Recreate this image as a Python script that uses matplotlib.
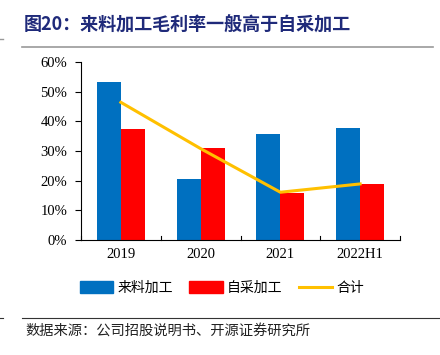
import matplotlib
matplotlib.use("Agg")
import matplotlib.pyplot as plt
import numpy as np
from matplotlib.lines import Line2D
from matplotlib.patches import Patch

categories = ["2019", "2020", "2021", "2022H1"]
series_names = ["来料加工", "自采加工", "合计"]
processing = [53.3, 20.5, 35.7, 37.8]
self_purchase = [37.3, 30.9, 15.7, 19.0]
total = [46.4, 30.8, 16.1, 18.9]
yticks = [0, 10, 20, 30, 40, 50, 60]
ytick_labels = ["0%", "10%", "20%", "30%", "40%", "50%", "60%"]

W, H = 440, 355
fig = plt.figure(figsize=(W / 100, H / 100), dpi=100)
cjk = ["Noto Sans CJK SC", "DejaVu Sans"]
serif = ["Liberation Serif", "DejaVu Serif"]

ax = fig.add_axes([81 / W, 1 - 240 / H, (400 - 81) / W, (240 - 62) / H])
x = np.arange(len(categories))
bw = 0.3
ax.bar(x - bw / 2, processing, bw, color="#0070C0", label=series_names[0], zorder=2)
ax.bar(x + bw / 2, self_purchase, bw, color="#FF0000", label=series_names[1], zorder=2)
ax.plot(x, total, color="#FFC000", lw=2.2, zorder=3, label=series_names[2])

ax.set_xlim(-0.5, len(categories) - 0.5)
ax.set_ylim(0, 60)
ax.set_yticks(yticks)
ax.set_yticklabels(ytick_labels, fontfamily=serif, fontsize=10.5)
ax.set_xticks(x)
ax.set_xticklabels(categories, fontfamily=serif, fontsize=10.5)
ax.tick_params(axis="x", length=0, pad=6)
ax.tick_params(axis="y", direction="out", length=4, width=0.8, pad=6)
for b in np.arange(-0.5, len(categories), 1.0):
    ax.plot([b, b], [0, 1.5], color="black", lw=0.8, clip_on=False, zorder=4)
for s in ["top", "right"]:
    ax.spines[s].set_visible(False)
for s in ["left", "bottom"]:
    ax.spines[s].set_linewidth(0.8)

handles = [Patch(color="#0070C0"), Patch(color="#FF0000"),
           Line2D([0], [0], color="#FFC000", lw=2.2)]
leg = fig.legend(handles, series_names, loc="center", bbox_to_anchor=(222 / W, 1 - 288 / H),
                 ncol=3, frameon=False, prop={"family": cjk, "size": 10},
                 handlelength=2.4, handleheight=0.9, handletextpad=0.3, columnspacing=1.2)

fig.text(24 / W, 1 - 25 / H, "图20：来料加工毛利率一般高于自采加工", fontfamily=cjk,
         fontsize=13, fontweight="bold", color="#1F2A7A", va="center", ha="left")
fig.add_artist(Line2D([22 / W, 433 / W], [1 - 47 / H, 1 - 47 / H], color="#999999", lw=1.2))
fig.add_artist(Line2D([0, 3 / W], [1 - 39 / H, 1 - 39 / H], color="#999999", lw=1.0))
fig.add_artist(Line2D([22 / W, 1.0], [1 - 318 / H, 1 - 318 / H], color="#333333", lw=0.8))
fig.add_artist(Line2D([0, 3 / W], [1 - 318 / H, 1 - 318 / H], color="#333333", lw=0.8))
fig.text(25 / W, 1 - 331 / H, "数据来源：公司招股说明书、开源证券研究所", fontfamily=cjk,
         fontsize=10.3, color="#222222", va="center", ha="left")

fig.savefig("out.png", dpi=100)
